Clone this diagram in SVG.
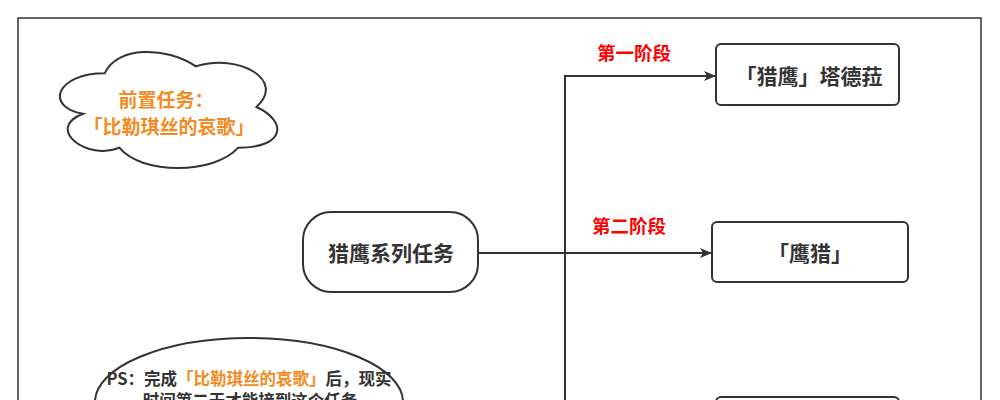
<svg xmlns="http://www.w3.org/2000/svg" width="1000" height="400" viewBox="0 0 1000 400">
<defs>
<style>
text{font-family:"Noto Sans CJK SC","Noto Sans",sans-serif;font-weight:bold;text-anchor:middle;dominant-baseline:central}
.shape{fill:#fff;stroke:#333;stroke-width:2}
.node{fill:#333;font-size:21px}
.orange{fill:#f38b22}
.red{fill:#ff0000;font-size:18.5px}
.edge{fill:none;stroke:#333;stroke-width:2}
</style>
<marker id="arr" viewBox="0 0 12 10" refX="11" refY="5" markerWidth="12" markerHeight="10" markerUnits="userSpaceOnUse" orient="auto">
<path d="M0,0 L12,5 L0,10 L3,5 Z" fill="#333"/>
</marker>
</defs>
<rect x="0" y="0" width="1000" height="400" fill="#fff"/>
<rect id="frame" x="18" y="18" width="963" height="460" fill="none" stroke="#333" stroke-width="1.5"/>
<g id="connectors">
<path class="edge" d="M478,253 L711,253" marker-end="url(#arr)"/>
<path class="edge" d="M565,427 L565,76 L715,76" marker-end="url(#arr)"/>
<path class="edge" d="M565,420 L565,427 L715,427" marker-end="url(#arr)"/>
<text class="red" x="634" y="52">第一阶段</text>
<text class="red" x="629" y="225">第二阶段</text>
<text class="red" x="634" y="408">第三阶段</text>
</g>
<g id="cloud">
<path class="shape" d="M104.8,73.2 C56.3,73.2 44.2,107 83,113.8 C44.2,128.7 87.9,161.2 119.4,147.7 C141.2,174.8 213.9,174.8 238.2,147.7 C286.7,147.7 286.7,120.6 256.4,107 C286.7,80 238.2,52.9 195.8,66.4 C165.5,46.1 117,46.1 104.8,73.2 Z"/>
<text class="orange" x="166" y="98" font-size="19">前置任务：</text>
<text class="orange" x="169" y="125" font-size="19">「比勒琪丝的哀歌」</text>
</g>
<g id="main">
<rect class="shape" x="303" y="212" width="175" height="80" rx="28" ry="28"/>
<text class="node" x="391" y="252" font-size="23">猎鹰系列任务</text>
</g>
<g id="stage1">
<rect class="shape" x="716" y="44" width="183" height="61" rx="5" ry="5"/>
<text class="node" x="809" y="75">「猎鹰」塔德菈</text>
</g>
<g id="stage2">
<rect class="shape" x="712" y="222" width="196" height="60" rx="5" ry="5"/>
<text class="node" x="810" y="252">「鹰猎」</text>
</g>
<g id="stage3">
<rect class="shape" x="716" y="397" width="183" height="61" rx="5" ry="5"/>
</g>
<g id="note">
<ellipse class="shape" cx="249" cy="402" rx="154" ry="64"/>
<text x="249" y="378" font-size="16.5" fill="#333">PS：完成<tspan class="orange">「比勒琪丝的哀歌」</tspan>后，现实</text>
<text x="250" y="400" font-size="16.5" fill="#333">时间第二天才能接到这个任务</text>
</g>
</svg>
